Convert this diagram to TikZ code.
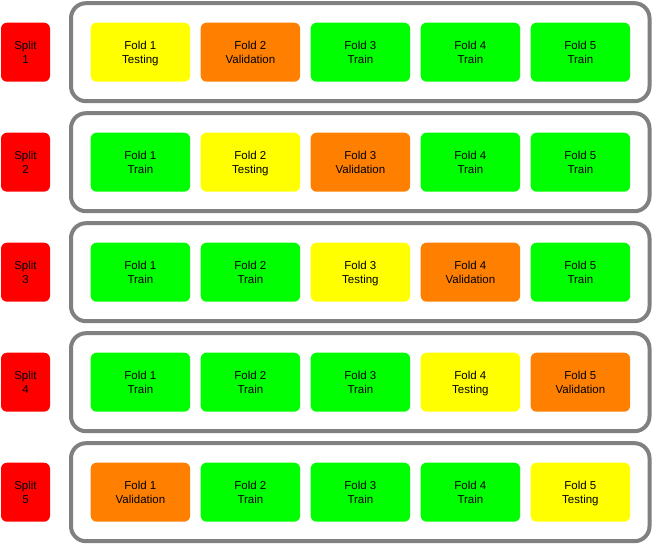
\documentclass[tikz,border=0pt]{standalone}
\usepackage{fontspec}
\setmainfont{Liberation Sans}
\definecolor{cyellow}{HTML}{FFFF00}
\definecolor{corange}{HTML}{FF8000}
\definecolor{cgreen}{HTML}{00FF00}
\definecolor{cred}{HTML}{FF0000}
\definecolor{cframe}{HTML}{808080}
\newcommand{\topstrut}{\rule{0pt}{12.8pt}}
\begin{document}
\begin{tikzpicture}[x=1pt,y=-1pt,
  box/.style={rounded corners=6pt,minimum width=99.5pt,minimum height=59pt,inner sep=0pt,align=center,
    font=\fontsize{11.5pt}{14pt}\selectfont,text=black},
  Testing/.style={box,fill=cyellow},
  Validation/.style={box,fill=corange},
  Train/.style={box,fill=cgreen},
  splitbox/.style={box,fill=cred,minimum width=49pt},
  frame/.style={draw=cframe,line width=4pt,rounded corners=15pt}]
\useasboundingbox (0,0) rectangle (653,545);
\foreach \r/\a/\b/\c/\d/\e in {1/Testing/Validation/Train/Train/Train,2/Train/Testing/Validation/Train/Train,3/Train/Train/Testing/Validation/Train,4/Train/Train/Train/Testing/Validation,5/Validation/Train/Train/Train/Testing}{
  \pgfmathsetmacro{\yc}{52.2+110*(\r-1)}
  \draw[frame] (71,\yc-49) rectangle (649.5,\yc+49);
  \node[splitbox] (s\r) at (25.5,\yc) {\topstrut Split\\\strut\r};
  \foreach \k/\t in {1/\a,2/\b,3/\c,4/\d,5/\e}{
    \node[\t] (f\r\k) at (140.4+110*\k-110,\yc) {\topstrut Fold \k\\\strut\t};
  }
}
\end{tikzpicture}
\end{document}
